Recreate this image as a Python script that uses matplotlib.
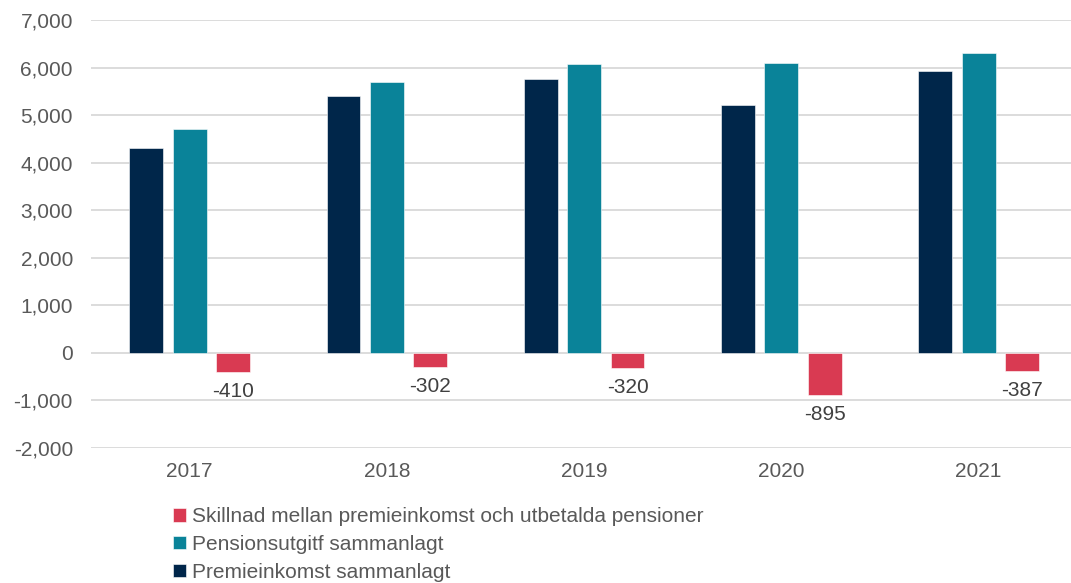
import matplotlib.pyplot as plt
import numpy as np

plt.rcParams['font.family'] = ['Liberation Sans', 'DejaVu Sans']

# Data
years = ['2017', '2018', '2019', '2020', '2021']
premieinkomst = [4300, 5400, 5760, 5210, 5920]
pensionsutgift = [4710, 5702, 6080, 6105, 6307]
skillnad = [-410, -302, -320, -895, -387]

navy = '#00264A'
teal = '#0A8399'
red = '#D93A52'
grey = '#595959'

W, H = 1071, 583
fig = plt.figure(figsize=(W / 100, H / 100), dpi=100)
# axes in pixel coords: left 91, right 1071, top 20, bottom 448
ax = fig.add_axes([91 / W, 1 - 448 / H, (1071 - 91) / W, (448 - 20) / H])

x = np.arange(len(years))
bw = 0.172
off = 0.22
b1 = ax.bar(x - off, premieinkomst, bw, color=navy, edgecolor='white', linewidth=0.4,
            label='Premieinkomst sammanlagt', zorder=3)
b2 = ax.bar(x, pensionsutgift, bw, color=teal, edgecolor='white', linewidth=0.4,
            label='Pensionsutgitf sammanlagt', zorder=3)
b3 = ax.bar(x + off, skillnad, bw, color=red, edgecolor='white', linewidth=0.4,
            label='Skillnad mellan premieinkomst och utbetalda pensioner', zorder=3)

ax.bar_label(b3, labels=[str(v) for v in skillnad], padding=7, fontsize=15, color='#404040')

ax.set_xlim(-0.5, -0.5 + 980 / 197.25)
ax.set_ylim(-2000, 7000)
ax.set_yticks(np.arange(-2000, 7001, 1000))
ax.yaxis.set_major_formatter(plt.FuncFormatter(lambda v, p: f'{int(v):,}'))
ax.set_xticks(x)
ax.set_xticklabels(years)
ax.tick_params(axis='both', length=0, labelsize=15, labelcolor=grey)
ax.tick_params(axis='y', pad=13)
ax.tick_params(axis='x', pad=10)
ax.grid(axis='y', color='#D9D9D9', linewidth=1.3, zorder=0)
for s in ax.spines.values():
    s.set_visible(False)

handles = [b3, b2, b1]
fig.legend(handles, [h.get_label() for h in handles], loc='upper left',
           bbox_to_anchor=(163 / W, 1 - 497 / H), frameon=False, fontsize=15,
           labelcolor=grey, handlelength=0.6, handleheight=0.6, handletextpad=0.3,
           labelspacing=0.42, borderpad=0)

fig.savefig('out.png', dpi=100)
